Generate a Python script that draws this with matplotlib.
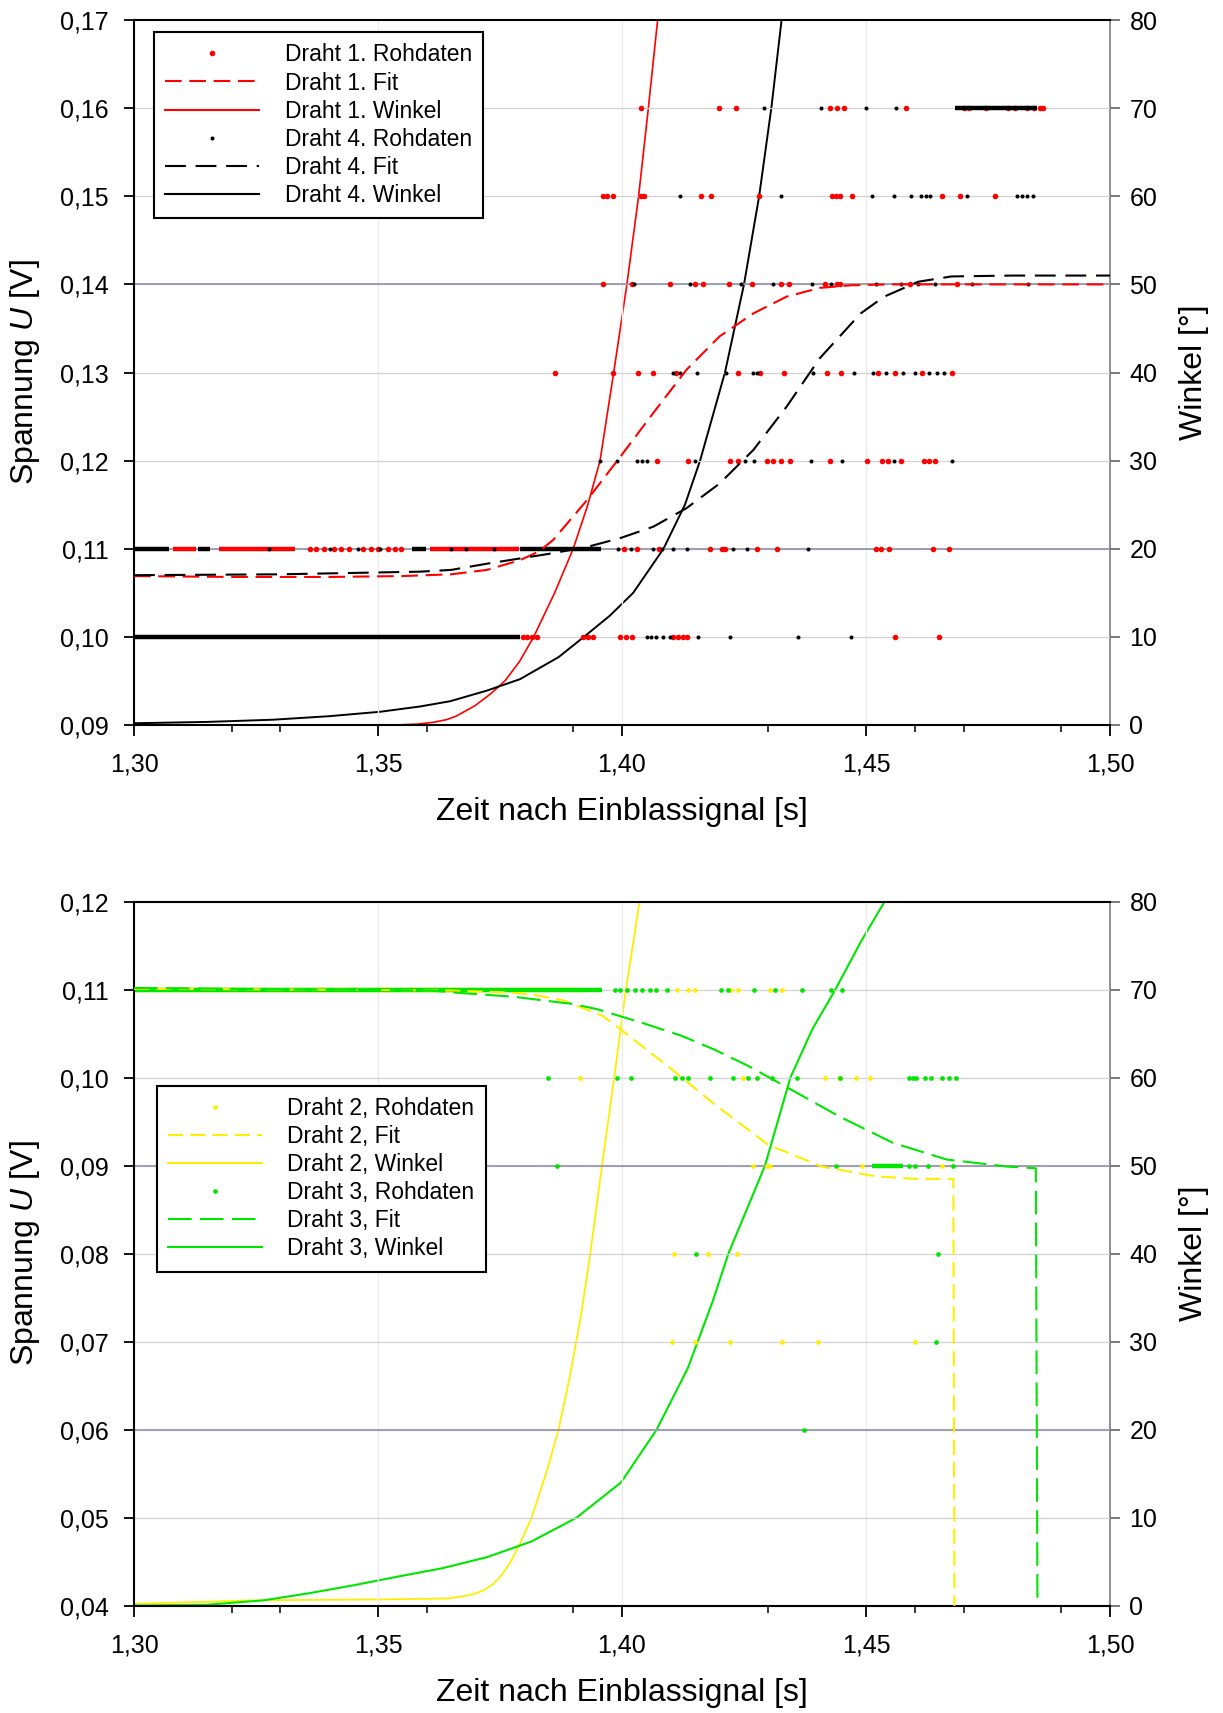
import matplotlib
matplotlib.use('Agg')
import matplotlib.pyplot as plt
from matplotlib.lines import Line2D
from matplotlib.ticker import FuncFormatter
from matplotlib.transforms import blended_transform_factory
from matplotlib import font_manager

# ---------------- axes / ticks ----------------
x_ticks = [1.30, 1.35, 1.40, 1.45, 1.50]
x_minor_ticks = [1.32, 1.33, 1.36, 1.39, 1.43, 1.46, 1.47, 1.49]
top_u_ticks = [0.09, 0.10, 0.11, 0.12, 0.13, 0.14, 0.15, 0.16, 0.17]
bot_u_ticks = [0.04, 0.05, 0.06, 0.07, 0.08, 0.09, 0.10, 0.11, 0.12]
angle_ticks = [0, 10, 20, 30, 40, 50, 60, 70, 80]
angle_grid = [20, 50, 80]

# ---------------- top panel: Draht 1 / Draht 4 ----------------
d1_fit_t = [1.300, 1.320, 1.340, 1.355, 1.365, 1.3723, 1.3791, 1.3830, 1.3859, 1.3928,
            1.3996, 1.4064, 1.4132, 1.4200, 1.4269, 1.4337, 1.4405, 1.4470, 1.4550, 1.4700, 1.5000]
d1_fit_u = [0.1069, 0.1068, 0.1068, 0.1069, 0.1071, 0.1076, 0.1087, 0.1097, 0.1110, 0.1155,
            0.1204, 0.1254, 0.1303, 0.1341, 0.1367, 0.1386, 0.1396, 0.1399, 0.1400, 0.1400, 0.1400]
d4_fit_t = [1.300, 1.330, 1.3586, 1.3650, 1.3723, 1.3859, 1.3928, 1.3996, 1.4064, 1.4132,
            1.4200, 1.4269, 1.4337, 1.4405, 1.4489, 1.4537, 1.4607, 1.4675, 1.4800, 1.5000]
d4_fit_u = [0.1070, 0.1071, 0.1074, 0.1076, 0.1083, 0.1095, 0.1102, 0.1112, 0.1125, 0.1146,
            0.1174, 0.1212, 0.1261, 0.1316, 0.1367, 0.1386, 0.1403, 0.1409, 0.1410, 0.1410]
d1_ang_t = [1.3537, 1.3580, 1.3613, 1.3640, 1.3660, 1.3699, 1.3730, 1.3760, 1.3790, 1.3819,
            1.3862, 1.3900, 1.3930, 1.3955, 1.3983, 1.4010, 1.4034, 1.4054, 1.4073]
d1_ang = [0, 0.1, 0.3, 0.6, 1.0, 2.2, 3.5, 5.0, 7.2, 10, 15, 20, 25, 30, 40, 50, 60, 70, 80]
d4_ang_t = [1.300, 1.3150, 1.3285, 1.3400, 1.3504, 1.3586, 1.3648, 1.3723, 1.3791, 1.3870,
            1.3922, 1.3975, 1.4023, 1.4085, 1.4129, 1.4160, 1.4211, 1.4250, 1.4281, 1.4306, 1.4327]
d4_ang = [0.2, 0.35, 0.6, 1.0, 1.5, 2.1, 2.7, 3.9, 5.2, 7.7, 10, 12.4, 15, 20, 25, 30, 40,
          50, 60, 70, 80]

# raw data: voltage level -> sample times
d1_raw = {
    0.16: [1.4039, 1.4198, 1.4233, 1.4427, 1.4441, 1.4454, 1.4582, 1.4700, 1.4712, 1.4745,
           1.4790, 1.4805, 1.4830, 1.4845, 1.4857, 1.4863],
    0.15: [1.3962, 1.3970, 1.3982, 1.4039, 1.4045, 1.4161, 1.4182, 1.4281, 1.4430, 1.4438,
           1.4447, 1.4471, 1.4655, 1.4693, 1.4765],
    0.14: [1.3962, 1.4020, 1.4098, 1.4150, 1.4165, 1.4219, 1.4267, 1.4326, 1.4343, 1.4416,
           1.4440, 1.4447, 1.4590, 1.4686],
    0.13: [1.3863, 1.3982, 1.4033, 1.4064, 1.4110, 1.4238, 1.4283, 1.4331, 1.4420, 1.4448,
           1.4525, 1.4560, 1.4615, 1.4677],
    0.12: [1.4071, 1.4136, 1.4221, 1.4238, 1.4297, 1.4310, 1.4325, 1.4344, 1.4426, 1.4502,
           1.4533, 1.4545, 1.4571, 1.4618, 1.4630, 1.4641],
    0.11: [1.3360, 1.3372, 1.3390, 1.3410, 1.3425, 1.3440, 1.3470, 1.3485, 1.3500, 1.3520,
           1.3535, 1.3548, 1.4005, 1.4030, 1.4075, 1.4180, 1.4204, 1.4211, 1.4276, 1.4317,
           1.4520, 1.4530, 1.4548, 1.4638, 1.4670],
    0.10: [1.3797, 1.3805, 1.3815, 1.3826, 1.3920, 1.3930, 1.3941, 1.3996, 1.4008, 1.4020,
           1.4105, 1.4115, 1.4125, 1.4133, 1.4560, 1.4650],
}
d1_runs = [(0.11, 1.3080, 1.3127), (0.11, 1.3174, 1.3330), (0.11, 1.3607, 1.3789)]

d4_raw = {
    0.16: [1.4292, 1.4407, 1.4499, 1.4561],
    0.15: [1.4118, 1.4326, 1.4512, 1.4557, 1.4592, 1.4613, 1.4623, 1.4631, 1.4707, 1.4810,
           1.4820, 1.4829, 1.4842],
    0.14: [1.4025, 1.4140, 1.4243, 1.4309, 1.4389, 1.4428, 1.4520, 1.4572, 1.4606, 1.4641,
           1.4717, 1.4832],
    0.13: [1.4105, 1.4118, 1.4153, 1.4213, 1.4269, 1.4276, 1.4392, 1.4475, 1.4515, 1.4540,
           1.4575, 1.4600, 1.4630, 1.4645, 1.4660],
    0.12: [1.3955, 1.3989, 1.4030, 1.4040, 1.4051, 1.4150, 1.4252, 1.4270, 1.4388, 1.4450,
           1.4558, 1.4677],
    0.11: [1.3277, 1.3402, 1.3460, 1.3504, 1.3650, 1.3680, 1.3738, 1.3992, 1.4018, 1.4064,
           1.4082, 1.4105, 1.4133, 1.4228, 1.4256, 1.4381],
    0.10: [1.4051, 1.4060, 1.4070, 1.4083, 1.4098, 1.4156, 1.4221, 1.4361, 1.4470],
}
d4_runs = [(0.10, 1.3000, 1.3792), (0.11, 1.3000, 1.3072), (0.11, 1.3131, 1.3156),
           (0.11, 1.3570, 1.3598), (0.11, 1.3790, 1.3957), (0.16, 1.4683, 1.4850)]

# ---------------- bottom panel: Draht 2 / Draht 3 ----------------
d2_fit_t = [1.300, 1.340, 1.3650, 1.3760, 1.3811, 1.3879, 1.3961, 1.3999, 1.4101, 1.4189,
            1.4299, 1.4409, 1.4518, 1.4600, 1.4679, 1.4683]
d2_fit_u = [0.1101, 0.1100, 0.1099, 0.1097, 0.1095, 0.1088, 0.1070, 0.1054, 0.1010, 0.0970,
            0.0924, 0.0899, 0.0888, 0.0885, 0.0885, 0.0000]
d3_fit_t = [1.300, 1.340, 1.3607, 1.3675, 1.3777, 1.3896, 1.3948, 1.4043, 1.4120, 1.4189,
            1.4260, 1.4335, 1.4445, 1.4555, 1.4665, 1.4789, 1.4848, 1.4854]
d3_fit_u = [0.1102, 0.1100, 0.1099, 0.1096, 0.1092, 0.1084, 0.1078, 0.1062, 0.1048, 0.1032,
            0.1013, 0.0990, 0.0956, 0.0926, 0.0907, 0.0899, 0.0897, 0.0000]
d2_ang_t = [1.300, 1.3250, 1.3500, 1.3640, 1.3668, 1.3695, 1.3715, 1.3735, 1.3751, 1.3770,
            1.3788, 1.3815, 1.3847, 1.3870, 1.3893, 1.3916, 1.3935, 1.3959, 1.3984, 1.4008,
            1.4036]
d2_ang = [0.2, 0.6, 0.7, 0.8, 1.0, 1.3, 1.7, 2.4, 3.3, 4.8, 6.7, 10, 15.5, 20, 26, 33,
          40, 50, 60, 70, 80]
d3_ang_t = [1.300, 1.3150, 1.3266, 1.3358, 1.3449, 1.3541, 1.3632, 1.3723, 1.3815, 1.3907,
            1.3998, 1.4071, 1.4135, 1.4186, 1.4218, 1.4293, 1.4345, 1.4390, 1.4437, 1.4490,
            1.4538]
d3_ang = [0.0, 0.1, 0.6, 1.4, 2.3, 3.3, 4.25, 5.5, 7.3, 10.0, 14.0, 20, 27, 34.6, 40, 50,
          60, 65.5, 70, 75.5, 80]

d2_raw = {
    0.11: [1.4112, 1.4135, 1.4150, 1.4224, 1.4238, 1.4303, 1.4327],
    0.10: [1.3913, 1.4247, 1.4415, 1.4444, 1.4480, 1.4509],
    0.09: [1.4268, 1.4298, 1.4303, 1.4491, 1.4656],
    0.08: [1.4107, 1.4176, 1.4235],
    0.07: [1.4103, 1.4149, 1.4222, 1.4327, 1.4401, 1.4600],
}
d2_runs = [(0.11, 1.3000, 1.3920)]

d3_raw = {
    0.11: [1.3985, 1.3995, 1.4010, 1.4027, 1.4041, 1.4057, 1.4070, 1.4092, 1.4202, 1.4218,
           1.4271, 1.4314, 1.4368, 1.4428, 1.4450],
    0.10: [1.3848, 1.3989, 1.4018, 1.4108, 1.4122, 1.4135, 1.4180, 1.4227, 1.4258, 1.4276,
           1.4307, 1.4359, 1.4446, 1.4589, 1.4596, 1.4603, 1.4620, 1.4634, 1.4656, 1.4670, 1.4685],
    0.09: [1.3866, 1.4439, 1.4589, 1.4600, 1.4627, 1.4678],
    0.08: [1.4151, 1.4647],
    0.07: [1.4643],
    0.06: [1.4373],
}
d3_runs = [(0.11, 1.3000, 1.3958), (0.09, 1.4513, 1.4576)]

labels_top = ['Draht 1. Rohdaten', 'Draht 1. Fit', 'Draht 1. Winkel',
              'Draht 4. Rohdaten', 'Draht 4. Fit', 'Draht 4. Winkel']
labels_bot = ['Draht 2, Rohdaten', 'Draht 2, Fit', 'Draht 2, Winkel',
              'Draht 3, Rohdaten', 'Draht 3, Fit', 'Draht 3, Winkel']

# ---------------- style ----------------
names = {f.name for f in font_manager.fontManager.ttflist}
sans = 'Liberation Sans' if 'Liberation Sans' in names else 'DejaVu Sans'
plt.rcParams['font.family'] = [sans, 'DejaVu Sans']
plt.rcParams['mathtext.fontset'] = 'custom'
plt.rcParams['mathtext.rm'] = sans
plt.rcParams['mathtext.it'] = sans + ':italic'
plt.rcParams['lines.scale_dashes'] = False

RED, BLACK, YELLOW, GREEN = '#ff0000', '#000000', '#ffee00', '#00e600'
GRID_LIGHT, GRID_BLUE, GRID_V = '#d2d2d2', '#9898ae', '#ececec'
TICK_FS, LABEL_FS, LEG_FS = 18, 23, 16.5

W, H = 1223, 1713
fig = plt.figure(figsize=(W / 100, H / 100), dpi=100)


def comma(v, pos):
    return f'{v:.2f}'.replace('.', ',')


def make_panel(rect, uticks):
    ax = fig.add_axes(rect)
    ax2 = ax.twinx()
    ax.set_zorder(ax2.get_zorder() + 1)
    ax.patch.set_visible(False)
    ax.set_xlim(x_ticks[0], x_ticks[-1])
    ax.set_ylim(uticks[0], uticks[-1])
    ax2.set_ylim(angle_ticks[0], angle_ticks[-1])
    ax.set_xticks(x_ticks)
    ax.set_xticks(x_minor_ticks, minor=True)
    ax.set_yticks(uticks)
    ax2.set_yticks(angle_ticks)
    ax.xaxis.set_major_formatter(FuncFormatter(comma))
    ax.yaxis.set_major_formatter(FuncFormatter(comma))
    ax.tick_params(axis='x', which='major', direction='out', length=8, width=1.3,
                   labelsize=TICK_FS, pad=12)
    ax.tick_params(axis='x', which='minor', direction='out', length=5, width=1.1)
    ax.tick_params(axis='y', direction='out', length=7, width=1.3, labelsize=TICK_FS, pad=11)
    ax2.tick_params(axis='y', direction='out', length=7, width=1.1, labelsize=TICK_FS,
                    pad=7, color='#555555')
    for s in ['left', 'bottom', 'top']:
        ax.spines[s].set_linewidth(1.5)
    ax.spines['right'].set_visible(False)
    for s in ['left', 'bottom', 'top']:
        ax2.spines[s].set_visible(False)
    ax2.spines['right'].set_color('#707070')
    ax2.spines['right'].set_linewidth(1.1)
    # grids
    for x in x_ticks[1:-1]:
        ax.axvline(x, color=GRID_V, lw=1.0, zorder=0.3)
    for u in uticks[1:-1]:
        ax.axhline(u, color=GRID_LIGHT, lw=0.9, zorder=0.4)
    tr = blended_transform_factory(ax.transAxes, ax2.transData)
    for a in angle_grid:
        ax.add_line(Line2D([0, 1], [a, a], transform=tr, color=GRID_BLUE, lw=1.3, zorder=0.5))
    return ax, ax2


def draw_raw(ax, raw, runs, color, ms):
    for level, t0, t1 in runs:
        ax.hlines(level, t0, t1, colors=color, lw=3.2, zorder=2)
    for level, times in raw.items():
        ax.plot(times, [level] * len(times), ls='none', marker='o', ms=ms,
                color=color, mew=0, zorder=2)


def finish(ax, ax2, handles, labels, leg_anchor, label_y):
    ax.set_xlabel('Zeit nach Einblassignal [s]', fontsize=LABEL_FS)
    ax.xaxis.set_label_coords(0.5, label_y)
    ax.set_ylabel('Spannung $U$ [V]', fontsize=LABEL_FS)
    ax.yaxis.set_label_coords(-0.094, 0.5)
    ax2.set_ylabel('Winkel [°]', fontsize=LABEL_FS)
    ax2.yaxis.set_label_coords(1.071, 0.5)
    leg = ax.legend(handles, labels, loc='upper left', bbox_to_anchor=leg_anchor,
                    borderaxespad=0, frameon=True, fancybox=False, shadow=False,
                    edgecolor='black', fontsize=LEG_FS, handlelength=4.1,
                    handletextpad=1.1, labelspacing=0.22, borderpad=0.5, numpoints=1,
                    framealpha=1)
    leg.get_frame().set_linewidth(1.5)
    leg.set_zorder(10)


dash_red = (0, (12, 5.5))
dash_black = (0, (15, 7))
dash_yellow = (0, (11, 5))
dash_green = (0, (17, 6))

# ---------------- top panel ----------------
ax_t, ax_t2 = make_panel([134 / W, 1 - 725 / H, 976 / W, 705 / H], top_u_ticks)
draw_raw(ax_t, d1_raw, d1_runs, RED, 4.0)
draw_raw(ax_t, d4_raw, d4_runs, BLACK, 2.9)
ax_t.plot(d1_fit_t, d1_fit_u, color=RED, lw=1.5, ls=dash_red, zorder=3)
ax_t.plot(d4_fit_t, d4_fit_u, color=BLACK, lw=1.5, ls=dash_black, zorder=3)
ax_t2.plot(d1_ang_t, d1_ang, color=RED, lw=1.2)
ax_t2.plot(d4_ang_t, d4_ang, color=BLACK, lw=1.4)
h_top = [Line2D([], [], ls='none', marker='o', ms=4.0, color=RED, mew=0),
         Line2D([], [], color=RED, lw=1.5, ls=dash_red),
         Line2D([], [], color=RED, lw=1.5),
         Line2D([], [], ls='none', marker='o', ms=2.9, color=BLACK, mew=0),
         Line2D([], [], color=BLACK, lw=1.5, ls=dash_black),
         Line2D([], [], color=BLACK, lw=1.5)]
finish(ax_t, ax_t2, h_top, labels_top, ((154 - 134) / 976, 1 - (32 - 20) / 705),
       -(797 - 725) / 705)

# ---------------- bottom panel ----------------
ax_b, ax_b2 = make_panel([134 / W, 1 - 1605.6 / H, 976 / W, 703.9 / H], bot_u_ticks)
draw_raw(ax_b, d2_raw, d2_runs, YELLOW, 3.4)
draw_raw(ax_b, d3_raw, d3_runs, GREEN, 3.4)
ax_b.plot(d2_fit_t, d2_fit_u, color=YELLOW, lw=1.5, ls=dash_yellow, zorder=3)
ax_b.plot(d3_fit_t, d3_fit_u, color=GREEN, lw=1.5, ls=dash_green, zorder=3)
ax_b2.plot(d2_ang_t, d2_ang, color=YELLOW, lw=1.3)
ax_b2.plot(d3_ang_t, d3_ang, color=GREEN, lw=1.5)
h_bot = [Line2D([], [], ls='none', marker='o', ms=3.4, color=YELLOW, mew=0),
         Line2D([], [], color=YELLOW, lw=1.5, ls=dash_yellow),
         Line2D([], [], color=YELLOW, lw=1.5),
         Line2D([], [], ls='none', marker='o', ms=3.4, color=GREEN, mew=0),
         Line2D([], [], color=GREEN, lw=1.5, ls=dash_green),
         Line2D([], [], color=GREEN, lw=1.5)]
finish(ax_b, ax_b2, h_bot, labels_bot, ((156.7 - 134) / 976, 1 - (1086 - 902) / 703.9),
       -(797 - 725) / 703.9)

fig.savefig('out.png', dpi=100)
